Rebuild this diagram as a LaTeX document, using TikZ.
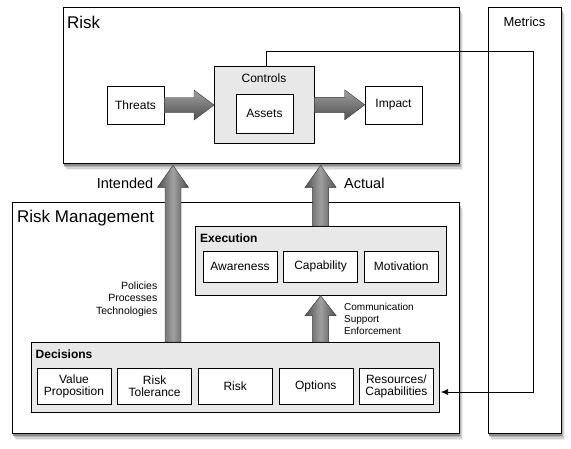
\documentclass[tikz,border=0pt]{standalone}
\usepackage{fontspec}
\setmainfont{Liberation Sans}
\usetikzlibrary{positioning,calc,arrows.meta}
\definecolor{RkInk}{RGB}{0,0,0}
\definecolor{RkGroup}{RGB}{232,232,232}
\definecolor{RkShaftLight}{RGB}{160,160,160}
\definecolor{RkShaftDark}{RGB}{80,80,80}
\definecolor{RkShaftEdge}{RGB}{50,50,50}
\definecolor{RkShadeA}{RGB}{236,236,236}
\definecolor{RkShadeB}{RGB}{212,212,212}
\definecolor{RkShadeC}{RGB}{180,180,180}
\definecolor{RkShadeD}{RGB}{140,140,140}
\tikzset{
  rk panel/.style={draw=RkInk, fill=white, line width=0.8pt, inner sep=0pt, anchor=north west},
  rk group/.style={draw=RkInk, fill=RkGroup, line width=0.6pt, inner sep=0pt, anchor=north west},
  rk item/.style={
    draw=RkInk,
    fill=white,
    line width=0.6pt,
    align=center,
    inner sep=1pt,
    minimum width=74pt,
    font=\fontsize{12}{14}\selectfont
  },
  exec item/.style={rk item, minimum height=31pt},
  dec item/.style={rk item, minimum height=36pt},
  rk title/.style={inner sep=0pt, anchor=base west, font=\fontsize{17}{20}\selectfont},
  rk head/.style={inner sep=0pt, anchor=base west, font=\fontsize{12}{14}\selectfont\bfseries},
  rk label/.style={inner sep=0pt, font=\fontsize{12}{14}\selectfont},
  rk flow/.style={inner sep=0pt, font=\fontsize{14.5}{17}\selectfont},
  rk note/.style={inner sep=0pt, font=\fontsize{10.5}{12.4}\selectfont},
  fat up/.style={draw=RkShaftEdge, line width=0.4pt, left color=RkShaftDark, right color=RkShaftDark, middle color=RkShaftLight},
  fat right/.style={draw=RkShaftEdge, line width=0.4pt, top color=RkShaftLight, bottom color=RkShaftDark},
  rk feed/.style={draw=RkInk, line width=0.6pt, -{Latex[length=7pt,width=6pt]}}
}
% block arrows drawn between two anchors
\newcommand{\fatright}[2]{%
  \path[fat right] let \p1=(#1), \p2=(#2) in
    (\x1,\y1+7.5pt) -- (\x2-20pt,\y1+7.5pt) -- (\x2-20pt,\y1+15pt) -- (\x2,\y1)
    -- (\x2-20pt,\y1-15pt) -- (\x2-20pt,\y1-7.5pt) -- (\x1,\y1-7.5pt) -- cycle;}
\newcommand{\fatup}[3]{%
  \path[fat up] let \p1=(#1), \p2=(#2) in
    (\x1-8pt,\y1) -- (\x1-8pt,\y2-#3) -- (\x1-15.5pt,\y2-#3) -- (\x1,\y2)
    -- (\x1+15.5pt,\y2-#3) -- (\x1+8pt,\y2-#3) -- (\x1+8pt,\y1) -- cycle;}
% soft panel shadow: corner x, corner y, width, height
\newcommand{\panelshade}[4]{%
  \fill[RkShadeA] (#1+4,#2+7) rectangle ++(#3,#4);
  \fill[RkShadeB] (#1+3,#2+5.5) rectangle ++(#3,#4);
  \fill[RkShadeC] (#1+2,#2+4) rectangle ++(#3,#4);
  \fill[RkShadeD] (#1+1,#2+2.5) rectangle ++(#3,#4);}

\begin{document}
\begin{tikzpicture}[x=1pt, y=-1pt]
\useasboundingbox (0,0) rectangle (571,448);

% shadows, then outer panels
\panelshade{63}{7}{396}{156}
\panelshade{488}{7}{73}{426}
\panelshade{12}{202}{447}{231}
\node[rk panel, minimum width=396pt, minimum height=156pt] (risk) at (63,7) {};
\node[rk panel, minimum width=73pt, minimum height=426pt] (metrics) at (488,7) {};
\node[rk panel, minimum width=447pt, minimum height=231pt] (riskmgmt) at (12,202) {};
\node[rk title] (risktitle) at (67,28) {Risk};
\node[rk title] (mgmttitle) at (17,222) {Risk Management};
\node[inner sep=0pt, anchor=base, font=\fontsize{13}{15}\selectfont] (metricstitle) at (524.5,26) {Metrics};

% risk chain
\node[rk item, minimum width=57pt, minimum height=38pt] (threats) at (135.5,105) {Threats};
\node[rk group, minimum width=100pt, minimum height=77pt] (controls) at (214,66) {};
\node[rk label, anchor=base] (controlstitle) at (264,82.5) {Controls};
\node[rk item, minimum width=57pt, minimum height=39pt] (assets) at (264.5,113.5) {Assets};
\node[rk item, minimum width=57pt, minimum height=38pt] (impact) at (393.5,105) {Impact};
\fatright{threats.east}{controls.west}
\fatright{controls.east}{impact.west}

% execution
\node[rk group, minimum width=251pt, minimum height=69pt] (execution) at (195,226) {};
\node[rk head] (exectitle) at (200,242) {Execution};
\node[exec item] (awareness) at (240,266.5) {Awareness};
\node[exec item, right=6pt of awareness] (capability) {Capability};
\node[exec item, right=6pt of capability] (motivation) {Motivation};

% decisions
\node[rk group, minimum width=408pt, minimum height=70pt] (decisions) at (31,342) {};
\node[rk head] (dectitle) at (35.5,358) {Decisions};
\node[dec item] (value) at (74,386) {Value\\[-2pt]Proposition};
\node[dec item, right=6pt of value] (tolerance) {Risk\\[-2pt]Tolerance};
\node[dec item, right=6pt of tolerance] (riskitem) {Risk};
\node[dec item, right=6pt of riskitem] (options) {Options};
\node[dec item, right=6pt of options] (resources) {Resources/\\[-2pt]Capabilities};

% block arrows between layers
\fatup{$(decisions.north west)+(142pt,0)$}{$(risk.south west)+(110pt,-1.5pt)$}{22pt}
\fatup{capability |- execution.north}{$(capability |- risk.south)+(0,-1.5pt)$}{22pt}
\fatup{capability |- decisions.north}{capability |- execution.south}{20pt}
\node[rk flow, anchor=base east] (intended) at (153.5,188) {Intended};
\node[rk flow, anchor=base west] (actual) at (344,188) {Actual};
\node[rk note, anchor=north east, align=right] (policies) at (157.5,281.5) {Policies\\Processes\\Technologies};
\node[rk note, anchor=north west, align=left, font=\fontsize{10}{12}\selectfont] (comms) at (344,303.5) {Communication\\Support\\Enforcement};

% metrics feedback
\coordinate (feedtop) at (533,51);
\coordinate (feedbot) at (533,392);
\coordinate (feedend) at (441,392);
\draw[rk feed] ([xshift=1.5pt]controls.north) |- (feedtop) -- (feedbot) -- (feedend);
\end{tikzpicture}
\end{document}
